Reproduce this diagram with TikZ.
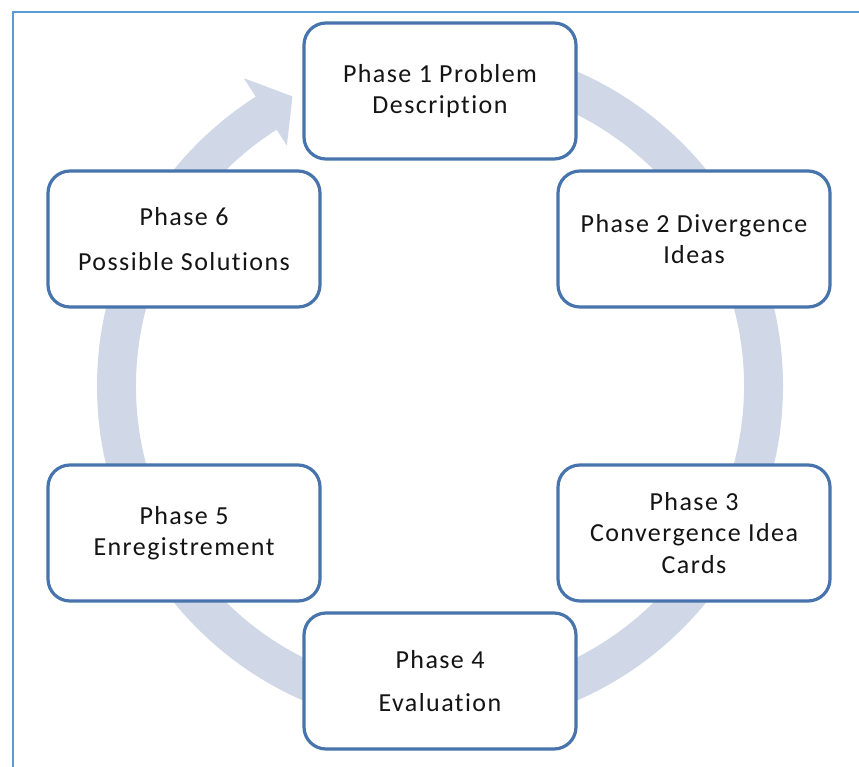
\documentclass[tikz,border=0pt]{standalone}
\usepackage{fontspec}
\setmainfont{Carlito}[LetterSpace=5.5,Ligatures=NoCommon]
\definecolor{boxline}{RGB}{71,116,172}
\definecolor{arrowfill}{RGB}{208,216,232}
\definecolor{frameline}{RGB}{91,155,213}
\definecolor{txt}{RGB}{20,20,20}
\tikzset{
  phasebox/.style={draw=boxline, line width=3.2pt, fill=white, rounded corners=22pt,
    minimum width=272pt, minimum height=136pt, align=center, text=txt,
    font=\fontsize{26pt}{31.5pt}\selectfont, inner sep=0pt},
}
\begin{document}
\begin{tikzpicture}[x=1pt,y=-1pt]
\useasboundingbox (0,0) rectangle (859,767);
% frame (only top and left visible)
\draw[frameline, line width=2pt] (13,767) -- (13,12) -- (859,12);
% cycle arrow
\coordinate (c) at (440,386);
\fill[arrowfill] ([shift={(-90:343)}]c) arc[start angle=-90, end angle=237.5, radius=343]
  -- ([shift={(237.5:365)}]c) -- ([shift={(243:325)}]c) -- ([shift={(237.5:285)}]c)
  -- ([shift={(237.5:304)}]c) arc[start angle=237.5, end angle=-90, radius=304] -- cycle;
% boxes
\node[phasebox] (p1) at (440,91) {Phase 1 Problem\\Description};
\node[phasebox] (p2) at (694,239) {Phase 2 Divergence\\Ideas};
\node[phasebox] (p3) at (694,533) {Phase 3\\Convergence Idea\\Cards};
\node[phasebox] (p4) at (440,681) {Phase 4\\[12pt]Evaluation};
\node[phasebox] (p5) at (184,533) {Phase 5\\Enregistrement};
\node[phasebox] (p6) at (184,239) {Phase 6\\[14pt]Possible Solutions};
\end{tikzpicture}
\end{document}
